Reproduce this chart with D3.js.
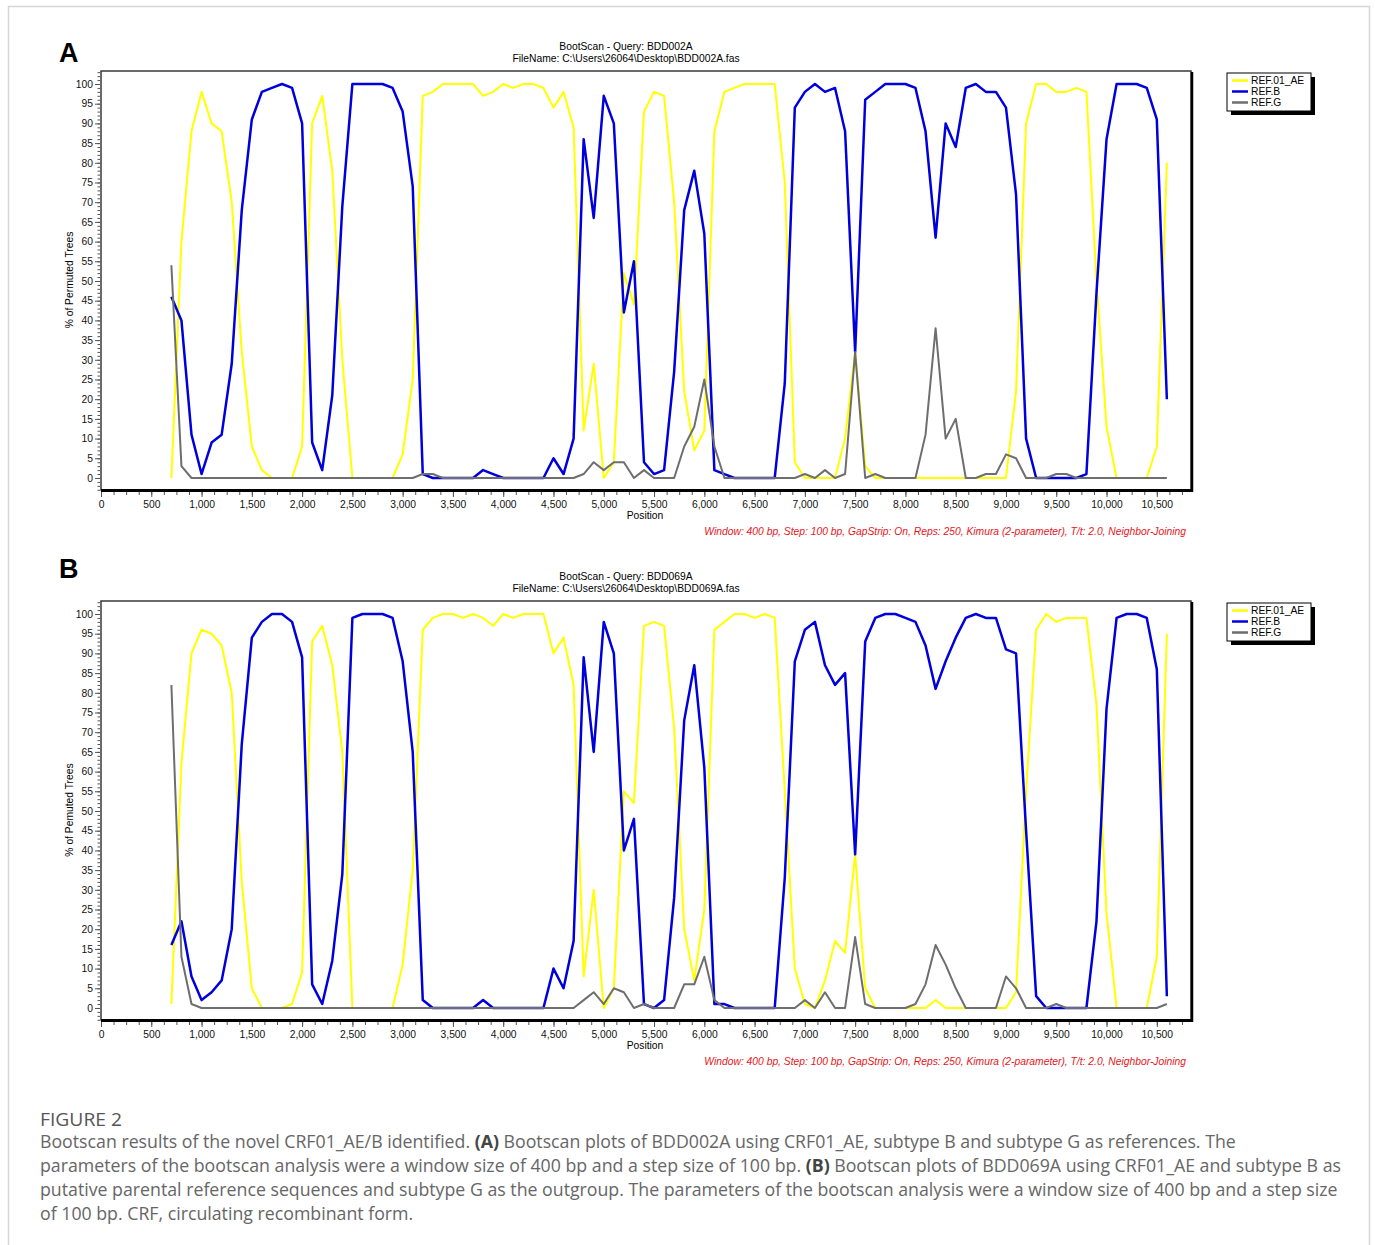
<!DOCTYPE html>
<html>
<head>
<meta charset="utf-8">
<script src="https://cdnjs.cloudflare.com/ajax/libs/d3/7.8.5/d3.min.js"></script>
<style>
  body { margin: 0; background: #fff; }
  svg text { font-family: "Liberation Sans", Arial, sans-serif; }
  svg text.cap { font-family: "Open Sans", Lato, sans-serif; }
</style>
</head>
<body>
<div id="fig"></div>
<script>
// window midpoints, 100 bp step
const positions = d3.range(700, 10700, 100);

// panel A : BDD002A
const aeA = [0,60,88,98,90,88,70,32,8,2,
  0,0,0,8,90,97,78,30,0,0,
  0,0,0,6,25,97,98,100,100,100,
  100,97,98,100,99,100,100,99,94,98,
  89,12,29,0,4,52,44,93,98,97,
  70,22,7,12,88,98,99,100,100,100,
  100,75,4,0,0,0,0,10,32,3,
  0,0,0,0,0,0,0,0,0,0,
  0,0,0,0,22,90,100,100,98,98,
  99,98,50,13,0,0,0,0,8,80];
const bA = [46,40,11,1,9,11,29,68,91,98,
  99,100,99,90,9,2,21,69,100,100,
  100,100,99,93,74,1,0,0,0,0,
  0,2,1,0,0,0,0,0,5,1,
  10,86,66,97,90,42,55,4,1,2,
  27,68,78,62,2,1,0,0,0,0,
  0,24,94,98,100,98,99,88,32,96,
  98,100,100,100,99,88,61,90,84,99,
  100,98,98,94,72,10,0,0,0,0,
  0,1,47,86,100,100,100,99,91,20];
const gA = [54,3,0,0,0,0,0,0,0,0,
  0,0,0,0,0,0,0,0,0,0,
  0,0,0,0,0,1,1,0,0,0,
  0,0,0,0,0,0,0,0,0,0,
  0,1,4,2,4,4,0,2,0,0,
  0,8,13,25,8,0,0,0,0,0,
  0,0,0,1,0,2,0,1,32,0,
  1,0,0,0,0,11,38,10,15,0,
  0,1,1,6,5,0,0,0,1,1,
  0,0,0,0,0,0,0,0,0,0];

// panel B : BDD069A
const aeB = [1,62,90,96,95,92,80,32,5,0,
  0,0,1,9,93,97,87,65,0,0,
  0,0,0,11,35,96,99,100,100,99,
  100,99,97,100,99,100,100,100,90,94,
  82,8,30,0,5,55,52,97,98,97,
  71,20,7,25,96,98,100,100,99,100,
  99,55,10,1,0,7,17,14,39,5,
  0,0,0,0,0,0,2,0,0,0,
  0,0,0,0,4,55,96,100,98,99,
  99,99,77,24,0,0,0,0,13,95];
const bB = [16,22,8,2,4,7,20,67,94,98,
  100,100,98,89,6,1,12,34,99,100,
  100,100,99,88,65,2,0,0,0,0,
  0,2,0,0,0,0,0,0,10,5,
  17,89,65,98,90,40,48,1,0,2,
  28,73,87,61,1,1,0,0,0,0,
  0,33,88,96,98,87,82,85,39,93,
  99,100,100,99,98,92,81,88,94,99,
  100,99,99,91,90,45,3,0,0,0,
  0,0,22,76,99,100,100,99,86,3];
const gB = [82,13,1,0,0,0,0,0,0,0,
  0,0,0,0,0,0,0,0,0,0,
  0,0,0,0,0,0,0,0,0,0,
  0,0,0,0,0,0,0,0,0,0,
  0,2,4,1,5,4,0,1,0,0,
  0,6,6,13,2,0,0,0,0,0,
  0,0,0,2,0,4,0,0,18,1,
  0,0,0,0,1,6,16,11,5,0,
  0,0,0,8,5,0,0,0,1,0,
  0,0,0,0,0,0,0,0,0,1];

const refNames = ["REF.01_AE", "REF.B", "REF.G"];
const refColors = ["#ffff00", "#0000dd", "#6e6e6e"];
const refWidths = [2, 2.5, 2];
const yTicks = d3.range(0, 101, 5);
const xTicks = d3.range(0, 10501, 500);
const params = "Window: 400 bp, Step: 100 bp, GapStrip: On, Reps: 250, Kimura (2-parameter), T/t: 2.0, Neighbor-Joining";
const fs = 10.3;

const W = 1375, H = 1245;
const svg = d3.select("#fig").append("svg").attr("width", W).attr("height", H);

// page border
svg.append("rect").attr("x", 8.5).attr("y", 6.5).attr("width", 1361).attr("height", 1260)
  .attr("fill", "none").attr("stroke", "#d6d6d6").attr("stroke-width", 1.5);

const x = d3.scaleLinear().domain([0, 10840]).range([101, 1191]);
const y = d3.scaleLinear().domain([-3.05, 103.3]).range([490, 71]);

//一つのパネルを描画
const panel = (letter, letterY, dy, query, ylab, series) => {
  const g = svg.append("g").attr("transform", "translate(0," + dy + ")");

  svg.append("text").attr("x", 59).attr("y", letterY)
    .attr("font-size", 27).attr("font-weight", "bold").text(letter);

  g.append("text").attr("x", 626).attr("y", 50).attr("text-anchor", "middle")
    .attr("font-size", fs).text("BootScan - Query: " + query);
  g.append("text").attr("x", 626).attr("y", 62).attr("text-anchor", "middle")
    .attr("font-size", fs).text("FileName: C:\\Users\\26064\\Desktop\\" + query + ".fas");

  // plot area + frame with shadow
  g.append("rect").attr("x", 101).attr("y", 71).attr("width", 1090).attr("height", 419)
    .attr("fill", "#fff").attr("stroke", "#3a3a3a").attr("stroke-width", 1.5);
  g.append("line").attr("x1", 101).attr("x2", 1193).attr("y1", 490.5).attr("y2", 490.5)
    .attr("stroke", "#000").attr("stroke-width", 3);
  g.append("line").attr("x1", 1192).attr("x2", 1192).attr("y1", 72).attr("y2", 492)
    .attr("stroke", "#000").attr("stroke-width", 2.5);

  // y axis
  const yMinor = g.append("g").attr("transform", "translate(100,0)")
    .call(d3.axisLeft(y).tickValues(d3.range(-3, 104, 1)).tickSize(2.5).tickFormat(""));
  const yMajor = g.append("g").attr("transform", "translate(100,0)")
    .call(d3.axisLeft(y).tickValues(yTicks).tickSize(5).tickPadding(2));
  [yMinor, yMajor].forEach(a => {
    a.select(".domain").remove();
    a.selectAll("line").attr("stroke", "#555");
    a.selectAll("text").attr("font-size", fs).attr("font-family", null).attr("fill", "#111");
  });

  // x axis
  const xMinor = g.append("g").attr("transform", "translate(0,492)")
    .call(d3.axisBottom(x).tickValues(d3.range(0, 10841, 125)).tickSize(3).tickFormat(""));
  const xMajor = g.append("g").attr("transform", "translate(0,492)")
    .call(d3.axisBottom(x).tickValues(xTicks).tickSize(5).tickPadding(4).tickFormat(d3.format(",")));
  [xMinor, xMajor].forEach(a => {
    a.select(".domain").remove();
    a.selectAll("line").attr("stroke", "#555");
    a.selectAll("text").attr("font-size", fs).attr("font-family", null).attr("fill", "#111");
  });

  g.append("text").attr("x", 645).attr("y", 519).attr("text-anchor", "middle")
    .attr("font-size", fs).text("Position");
  g.append("text").attr("x", 1186).attr("y", 535).attr("text-anchor", "end")
    .attr("font-size", fs).attr("font-style", "italic").attr("fill", "#e8141b").text(params);
  g.append("text").attr("transform", "translate(73,280) rotate(-90)").attr("text-anchor", "middle")
    .attr("font-size", fs).text(ylab);

  // curves
  const line = d3.line().x((d, i) => x(positions[i])).y(d => y(d));
  series.forEach((s, k) => {
    g.append("path").datum(s).attr("fill", "none")
      .attr("stroke", refColors[k]).attr("stroke-width", refWidths[k])
      .attr("stroke-linejoin", "round").attr("d", line);
  });

  // legend
  const lg = g.append("g").attr("transform", "translate(1227,73)");
  lg.append("rect").attr("x", 4).attr("y", 4).attr("width", 84).attr("height", 38).attr("fill", "#000");
  lg.append("rect").attr("x", 0).attr("y", 0).attr("width", 84).attr("height", 38)
    .attr("fill", "#fff").attr("stroke", "#000").attr("stroke-width", 1);
  refNames.forEach((n, k) => {
    const ly = 7.5 + k * 11;
    lg.append("line").attr("x1", 5).attr("x2", 21).attr("y1", ly).attr("y2", ly)
      .attr("stroke", refColors[k]).attr("stroke-width", 2.5);
    lg.append("text").attr("x", 24).attr("y", ly + 3.5).attr("font-size", fs).text(n);
  });
};

panel("A", 62, 0, "BDD002A", "% of Permuted Trees", [aeA, bA, gA]);
panel("B", 578, 530, "BDD069A", "% of Pemuted Trees", [aeB, bB, gB]);

// caption
const capLines = [
  [["Bootscan results of the novel CRF01_AE/B identified. ", 0], ["(A)", 1], [" Bootscan plots of BDD002A using CRF01_AE, subtype B and subtype G as references. The", 0]],
  [["parameters of the bootscan analysis were a window size of 400 bp and a step size of 100 bp. ", 0], ["(B)", 1], [" Bootscan plots of BDD069A using CRF01_AE and subtype B as", 0]],
  [["putative parental reference sequences and subtype G as the outgroup. The parameters of the bootscan analysis were a window size of 400 bp and a step size", 0]],
  [["of 100 bp. CRF, circulating recombinant form.", 0]]
];

svg.append("text").attr("class", "cap").attr("x", 40).attr("y", 1126)
  .attr("font-size", 17.5).attr("fill", "#555").attr("textLength", 82).attr("lengthAdjust", "spacingAndGlyphs")
  .text("FIGURE 2");

const capText = capLines.map((ln, i) => {
  const t = svg.append("text").attr("class", "cap").attr("x", 40).attr("y", 1148 + i * 24)
    .attr("font-size", 16).attr("fill", "#666");
  ln.forEach(p => {
    t.append("tspan").attr("font-weight", p[1] ? "bold" : null)
      .attr("fill", p[1] ? "#444" : null).text(p[0]);
  });
  return t;
});
// line 3 is a full line ending at ~1338: fit font size to it
const natural = capText[2].node().getComputedTextLength();
const capSize = 16 * 1298 / natural;
capText.forEach(t => t.attr("font-size", capSize));
</script>
</body>
</html>
